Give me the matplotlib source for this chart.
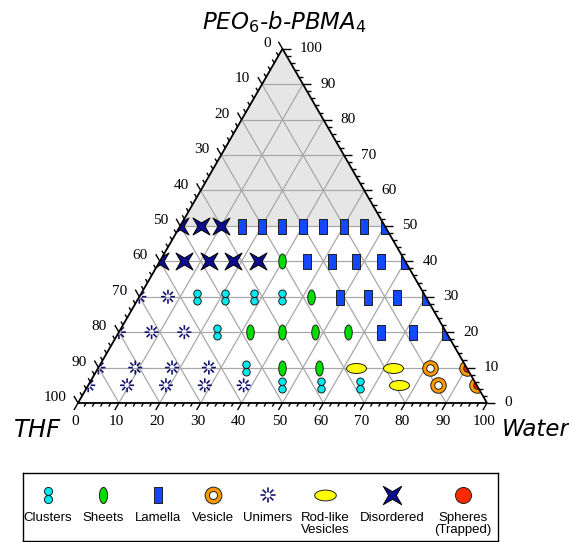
import numpy as np
import matplotlib.pyplot as plt
from matplotlib.path import Path
from matplotlib.patches import Polygon
from matplotlib.collections import LineCollection

SQ = np.sqrt(3) / 2

# polymer content (%) of each measured row
polymer = [50, 40, 30, 20, 10, 5]
# water content (%) of the samples along each row
water = [
    [0, 5, 10, 15, 20, 25, 30, 35, 40, 45, 50],
    [0, 6, 12, 18, 24, 30, 36, 42, 48, 54, 60],
    [0, 7, 14, 21, 28, 35, 42, 49, 56, 63, 70],
    [0, 8, 16, 24, 32, 40, 48, 56, 64, 72, 80],
    [0, 9, 18, 27, 36, 45, 54, 63, 72, 81, 90],
    [0, 9.5, 19, 28.5, 38, 47.5, 57, 66.5, 76, 85.5, 95],
]
# morphology found at each sample (one letter per point)
# C clusters, S sheets, L lamella, V vesicle, U unimers,
# R rod-like vesicles, D disordered, T spheres trapped in vesicles
phase = [
    "DDDLLLLLLLL",
    "DDDDDSLLLLL",
    "UUCCCCSLLLL",
    "UUUCSSSSLLL",
    "UUUUCSSRRVT",
    "UUUUUCCCRVT",
]

legend_keys = ["C", "S", "L", "V", "U", "R", "D", "T"]
legend_labels = ["Clusters", "Sheets", "Lamella", "Vesicle", "Unimers",
                 "Rod-like\nVesicles", "Disordered", "Spheres\n(Trapped)"]

axis_ticks = list(range(0, 101, 10))


def tern(w, p):
    w = np.asarray(w, float)
    p = np.asarray(p, float)
    return w + p / 2, p * SQ


def circ(cx, cy, rx, ry):
    c = Path.unit_circle()
    return Path(c.vertices * [rx, ry] + [cx, cy], c.codes)


# marker shapes
m_cluster = Path.make_compound_path(circ(0, 0.5, 0.5, 0.5), circ(0, -0.5, 0.5, 0.5))
m_sheet = circ(0, 0, 0.5, 1)
m_lamella = Path([(-0.5, -1), (0.5, -1), (0.5, 1), (-0.5, 1), (-0.5, -1)],
                 [Path.MOVETO, Path.LINETO, Path.LINETO, Path.LINETO, Path.CLOSEPOLY])
m_rod = circ(0, 0, 1, 0.5)
# four-pointed star, tips on the diagonals
r_in = 0.42
star_v = [(1, 1), (0, r_in), (-1, 1), (-r_in, 0), (-1, -1), (0, -r_in),
          (1, -1), (r_in, 0), (1, 1)]
m_star = Path(star_v, [Path.MOVETO] + [Path.LINETO] * 7 + [Path.CLOSEPOLY])
ray_v, ray_c = [], []
for a in np.arange(8) * np.pi / 4:
    ray_v += [(0.35 * np.cos(a), 0.35 * np.sin(a)), (np.cos(a), np.sin(a))]
    ray_c += [Path.MOVETO, Path.LINETO]
m_unimer = Path(ray_v, ray_c)

EDGE = "#202020"


def px(n):
    return (n * 0.72) ** 2


def draw(a, key, x, y, clip=None, k=1.0):
    arts = []
    if key == "C":
        arts.append(a.scatter(x, y, s=px(15 * k), marker=m_cluster, fc="#00e8f0", ec=EDGE, lw=0.7, zorder=5))
    elif key == "S":
        arts.append(a.scatter(x, y, s=px(15 * k), marker=m_sheet, fc="#00dd00", ec=EDGE, lw=0.7, zorder=5))
    elif key == "L":
        arts.append(a.scatter(x, y, s=px(15 * k), marker=m_lamella, fc="#1448ff", ec=EDGE, lw=0.7, zorder=5))
    elif key == "R":
        arts.append(a.scatter(x, y, s=px(20 * k), marker=m_rod, fc="#ffff00", ec=EDGE, lw=0.7, zorder=5))
    elif key == "D":
        arts.append(a.scatter(x, y, s=px(17 * k), marker=m_star, fc="#0c0c90", ec="black", lw=0.7, zorder=5))
    elif key == "U":
        arts.append(a.scatter(x, y, s=px(14 * k), marker=m_unimer, fc="none", ec="#14146e", lw=1.2, zorder=5))
    elif key in ("V", "T"):
        arts.append(a.scatter(x, y, s=px(15.5 * k), marker="o", fc="#ff9900", ec=EDGE, lw=0.7, zorder=5))
        inner = "white" if key == "V" else "#ff1a00"
        arts.append(a.scatter(x, y, s=px(7.5 * k), marker="o", fc=inner, ec=EDGE, lw=0.7, zorder=6))
    if clip is not None:
        for art in arts:
            art.set_clip_path(clip)


fig = plt.figure(figsize=(5.69, 5.42), dpi=100)
ax = fig.add_axes([0, 0, 1, 1])
ax.set_xlim(-19.07, 120.05)
ax.set_ylim(-33.99, 98.53)
ax.axis("off")

# shaded upper region (polymer above 50 %)
ax.add_patch(Polygon(np.column_stack(tern([0, 50, 0], [50, 50, 100])),
                     closed=True, fc="#e6e6e6", ec="none", zorder=0))

# grid
segs = []
for k in range(10, 100, 10):
    segs.append(np.column_stack(tern([0, 100 - k], [k, k])))
    segs.append(np.column_stack(tern([k, k], [0, 100 - k])))
    segs.append(np.column_stack(tern([100 - k, 0], [0, 100 - k])))
ax.add_collection(LineCollection(segs, colors="#a8a8a8", lw=0.9, zorder=1))

# triangle frame
tx, ty = tern([0, 100, 0, 0], [0, 0, 100, 0])
ax.plot(tx, ty, color="black", lw=1.3, zorder=7)
tri = Polygon(np.column_stack(tern([0, 100, 0], [0, 0, 100])), closed=True,
              transform=ax.transData)

# ticks on the three sides
tsegs = []
for v in range(0, 101, 2):
    ln = 2.0 if v % 10 == 0 else 1.0
    x, y = tern(v, 0)
    tsegs.append([(x, y), (x - ln / 2, y - ln * SQ)])
    x, y = tern(100 - v, v)
    tsegs.append([(x, y), (x + ln, y)])
    x, y = tern(0, 100 - v)
    tsegs.append([(x, y), (x - ln / 2, y + ln * SQ)])
ax.add_collection(LineCollection(tsegs, colors="black", lw=1.0, zorder=7))

tick_font = dict(family="Liberation Serif", fontsize=11)
for v in axis_ticks:
    x, y = tern(v, 0)
    ax.text(x - 0.7, y - 4.6, str(v), ha="center", va="center", **tick_font)
    x, y = tern(100 - v, v)
    ax.text(x + 4.2, y, str(v), ha="left", va="center", **tick_font)
    x, y = tern(0, 100 - v)
    ax.text(x - 2.9, y + 1.3, str(v), ha="right", va="center", **tick_font)

# corner names
name_font = dict(family="DejaVu Sans", style="italic", fontsize=16.5)
plt.rcParams["mathtext.fontset"] = "dejavusans"
plt.rcParams["mathtext.default"] = "it"
ax.text(50.4, 93.2, r"PEO$_6$-b-PBMA$_4$", ha="center", va="center", **name_font)
ax.text(-10.0, -6.6, "THF", ha="center", va="center", fontsize=17.5,
        family="DejaVu Sans", style="italic")
ax.text(112.0, -6.6, "Water", ha="center", va="center", **name_font)

# sample points
for p, ws, ph in zip(polymer, water, phase):
    for key in set(ph):
        sel = [w for w, c in zip(ws, ph) if c == key]
        x, y = tern(sel, [p] * len(sel))
        draw(ax, key, x, y, clip=tri)

# legend box
lg = fig.add_axes([23 / 569, 1 / 542, 475 / 569, 68 / 542])
lg.set_xlim(0, 475)
lg.set_ylim(0, 68)
lg.set_xticks([])
lg.set_yticks([])
for s in lg.spines.values():
    s.set_linewidth(1.0)
leg_x = [25, 80, 135, 190, 245, 302, 369, 440]
for lx, key, lab in zip(leg_x, legend_keys, legend_labels):
    if key == "T":
        lg.scatter([lx], [46], s=px(16), marker="o", fc="#ff2a00", ec=EDGE, lw=0.7, zorder=5)
    else:
        draw(lg, key, [lx], [46], k=1.08)
    lg.text(lx, 29, lab, ha="center", va="top", family="Liberation Sans",
            fontsize=9.5, linespacing=0.95)

fig.savefig("out.png", dpi=100)
